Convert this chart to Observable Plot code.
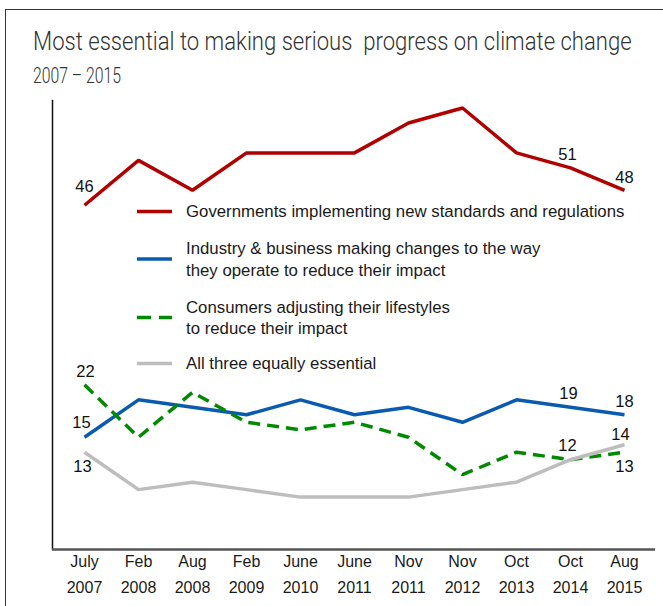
<!DOCTYPE html>
<html><head><meta charset="utf-8">
<script src="https://cdn.jsdelivr.net/npm/d3@7"></script>
<script src="https://cdn.jsdelivr.net/npm/@observablehq/plot@0.6"></script>
<style>
html,body{margin:0;padding:0;background:#fff;}
body{width:663px;height:606px;position:relative;overflow:hidden;font-family:"Liberation Sans",Arial,sans-serif;}
#frame{position:absolute;left:5px;top:9px;width:720px;height:720px;border-top:1.5px solid #333;border-left:1.5px solid #333;}
#header{position:absolute;left:0;top:0;overflow:visible;}
#chart{position:absolute;left:0;top:90px;}
#legend{position:absolute;left:0;top:0;pointer-events:none;}
</style></head><body>
<div id="frame"></div>
<svg id="header" width="663" height="90"></svg>
<div id="chart"></div>
<svg id="legend" width="663" height="400"></svg>
<script>
const title = "Most essential to making serious  progress on climate change";
const subtitle = "2007 – 2015";
const months = ["July\n2007","Feb\n2008","Aug\n2008","Feb\n2009","June\n2010","June\n2011","Nov\n2011","Nov\n2012","Oct\n2013","Oct\n2014","Aug\n2015"];
const seriesNames = [
  "Governments implementing new standards and regulations",
  "Industry & business making changes to the way\nthey operate to reduce their impact",
  "Consumers adjusting their lifestyles\nto reduce their impact",
  "All three equally essential"
];
const governments = [46,52,48,53,53,53,57,59,53,51,48];
const industry    = [15,20,19,18,20,18,19,17,20,19,18];
const consumers   = [22,15,21,17,16,17,15,10,13,12,13];
const allThree    = [13,8,9,8,7,7,7,8,9,12,14];

const colors = ["#b00000","#0a5bb0","#008a00","#bdbdbd"];
const dashes = [null,null,"12,7",null];
const allValues = [governments, industry, consumers, allThree];

const data = allValues.flatMap((vals, s) => vals.map((v, i) => ({series: s, month: months[i], value: v})));

// labelled points: [series index, month index, dx, dy]
const labelled = [
  [0,0,0,-19],[0,9,-3,-13],[0,10,0,-13],
  [2,0,1,-13],[1,0,-3,-15],[3,0,-2,15],
  [1,9,-2,-14],[1,10,0,-13],
  [3,10,-4,-10],[2,9,-3,-14],[2,10,0,15]
];

// header: condensed light text, squeezed horizontally to the reference width
const hdr = d3.select("#header");
function condensed(str, x, y, size, targetW, fill) {
  const g = hdr.append("g");
  const t = g.append("text").attr("x",0).attr("y",0)
    .attr("xml:space","preserve").style("white-space","pre")
    .attr("font-family","Roboto, sans-serif").attr("font-weight",300)
    .attr("font-size",size).attr("fill",fill).text(str);
  const w = t.node().getComputedTextLength() || targetW;
  g.attr("transform", `translate(${x},${y}) scale(${targetW / w},1)`);
}
condensed(title, 33, 50, 26, 599, "#333");
condensed(subtitle, 33, 83, 22.5, 88, "#333");

const marks = [
  Plot.frame({anchor:"left", stroke:"#111", strokeWidth:1.5}),
  Plot.ruleY([0], {stroke:"#555", strokeWidth:2.5}),
];
const order = [1,2,3,0];
for (const s of order) {
  marks.push(Plot.line(data.filter(d => d.series === s), {
    x:"month", y:"value", stroke: colors[s], strokeWidth:3.5,
    strokeDasharray: dashes[s] ?? undefined,
    strokeLinejoin:"miter", strokeLinecap:"butt", curve:"linear"
  }));
}
for (const [s, i, dx, dy] of labelled) {
  marks.push(Plot.text([{month: months[i], value: allValues[s][i]}], {
    x:"month", y:"value", text: d => String(d.value), dx, dy,
    fontSize:16.5, fill:"#111"
  }));
}
marks.push(Plot.axisX({tickSize:0, tickPadding:0, fontSize:16, lineHeight:1.58, label:null, tickFormat:d=>d, fill:"#1a1a1a", fontWeight:"normal"}));

const chart = Plot.plot({
  width:663, height:516,
  marginTop:10, marginBottom:57, marginLeft:52, marginRight:8,
  style:{fontFamily:"'Liberation Sans', Arial, sans-serif", fontSize:"15px", color:"#111", background:"transparent"},
  x:{type:"point", domain:months, padding:0.5, axis:null},
  y:{domain:[0,60], axis:null},
  marks
});
document.getElementById("chart").append(chart);

// legend (overlaid inside the plot area)
const lg = d3.select("#legend");
const rowCenters = [211.5, 259, 317.5, 363.5];
const lh = 21.5;
seriesNames.forEach((name, s) => {
  const cy = rowCenters[s];
  lg.append("line").attr("x1",137).attr("x2",172).attr("y1",cy).attr("y2",cy)
    .attr("stroke",colors[s]).attr("stroke-width",3.5)
    .attr("stroke-dasharray", s === 2 ? "14,8" : null);
  const lines = name.split("\n");
  const top = cy - (lines.length - 1) * lh / 2;
  const t = lg.append("text").attr("font-size",16.8).attr("fill","#1a1a1a")
    .attr("font-family","'Liberation Sans', Arial, sans-serif");
  lines.forEach((ln, k) => {
    t.append("tspan").attr("x",186).attr("y", top + k*lh).attr("dy","0.35em").text(ln);
  });
});
</script>
</body></html>
